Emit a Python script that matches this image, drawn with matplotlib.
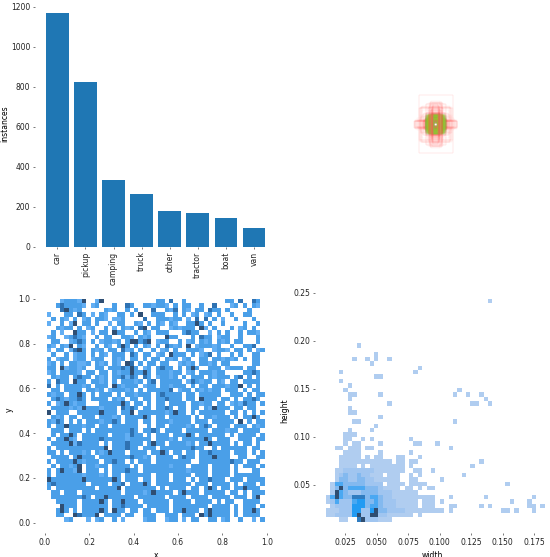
import numpy as np
import matplotlib
matplotlib.use("Agg")
import matplotlib.pyplot as plt
from matplotlib.colors import ListedColormap, BoundaryNorm
from matplotlib.patches import Rectangle

classes = ["car", "pickup", "camping", "truck", "other", "tractor", "boat", "van"]
instances = [1168, 824, 334, 262, 178, 170, 146, 93]

# ---- x / y histogram, read cell by cell, top row first (0 = empty) ----
xy_rows = [
    "0001222140 0140000000 0000022030 0200000000 0220300320",
    "0023222210 1200020032 0022122102 0220020030 0012020210",
    "0003421200 0002120020 2000300213 0210220322 0200002000",
    "1000220320 1021002202 0400222002 0201201202 0020022000",
    "0202102012 0221011200 0030022212 2010303020 1002000200",
    "1002014022 0200102200 2102021021 0022420200 2000020020",
    "0021220201 2002010212 0340220012 1222041020 0020120200",
    "0201004220 1022042200 2021022200 0232200102 0200202210",
    "1200123210 0202200221 0212000422 0002032201 2200200020",
    "0220012320 2012212024 4234012200 2012021202 1202200020",
    "2102140210 0202102420 2021020321 2040122212 0020022300",
    "1022013420 2120220312 0200201202 0022210012 2102202012",
    "0200201220 2021022203 2022012042 2202012302 0020200220",
    "2012201220 1220021202 2020220212 0120022022 1212020220",
    "1202022112 0212021043 0202202200 1212022120 2200000220",
    "2204122120 0220222324 2012023220 2024200222 0122202200",
    "1202222102 2022021224 2242022212 2012022212 2000022320",
    "0212202322 0212022313 2032012212 0202220212 2202302020",
    "2032204220 2212020222 1202302222 2013212202 1022022220",
    "3020222212 0222042122 2012202212 2202022022 2122402020",
    "0220222202 2120122212 0202222230 1220212122 0222020220",
    "2122022420 2022202022 1222023222 2022022222 0022202022",
    "0232122320 2222021202 2022022322 2022042220 2202022320",
    "2012421220 0022222420 2202022022 2202212202 2012132202",
    "0222212142 2212220323 2022022320 2202202142 2202202200",
    "4022200222 2242220224 0222222124 2202022222 2022020202",
    "0212022022 2022212022 2242022022 2220202212 2202022420",
    "2132020202 2212232022 2022022212 2220222022 2220402022",
    "2022422212 2022022222 2002022022 2212023202 2202220212",
    "0222022202 0222222223 2022320222 2022222022 2122022220",
    "0202242022 2222022213 2202022202 2242022222 2020222202",
    "2022421022 2232222212 2222022212 0222224202 2200222022",
    "0222241322 2202022232 2202422022 2212022422 2202022020",
    "2022222222 2224022232 2022202222 2223220020 2222220220",
    "2202022212 0212422202 2220224202 2022022322 2202220202",
    "0222202422 2022222223 2212022220 2322022242 2200220022",
    "2022224212 2202232202 0222022222 2220022222 2232202220",
    "0202212402 2122022220 2022222212 2202222022 2202022202",
    "2024221402 2202022232 2022222222 2212222022 2202000220",
    "2022222212 2212022022 2222022202 2220222022 2202222220",
    "4222222242 2222242022 2022022202 2202022322 2022202222",
    "2322222220 2222022302 2242022222 2220222022 2202022202",
    "2022222222 2022224022 2222202022 2202202420 2202242220",
    "0220222022 2222222022 2212422220 2422202222 2022020222",
    "0222222232 0224222222 0222222022 2202222022 2202220240",
    "0022222022 2242022422 2022222202 2220222202 0220022220",
    "0004222022 2222022322 2202222202 2222222022 2202022202",
    "0024202022 2242042202 2022022202 2422202422 2202022420",
    "0022004322 2402222022 0022200222 0222042422 2202022220",
    "0000120001 0120020100 0012200122 0102200220 1200200102",
]

# ---- width / height histogram, top row first ----
wh_rows = [
    "0000000000 0000000000 0000000000 0000000100",
    "", "", "", "", "", "", "", "", "",
    "0000000100",
    "",
    "0000000000 0100000000",
    "0000001001 0100100000",
    "0000000000 1",
    "0000000000 0000000000 01",
    "0001000000 0000000000 1",
    "0000000000 011",
    "0001",
    "000001",
    "0000100000 0000000000 0000000000 1",
    "0000011000 0010000000 0000000001 0010010000",
    "0000010000 0000000000 0000000000 0000001",
    "0000000000 0000100000 0000000000 0001100100",
    "000001",
    "0000011",
    "0000000000 001",
    "0000001100 0000000000 0000000001",
    "0000000000 01",
    "0000010000 1",
    "0000111",
    "0000110010 1000000001",
    "0000101100 0010000000 1100010",
    "0011011101 1000000000 0000000010",
    "0000111100 0010000001",
    "0001111101 0110001100 01",
    "0001111111 1111101101 1000000000 0000010000",
    "0001111010 1111111101 0000000000 0001000",
    "0011222222 2111111100 1100100000",
    "0012322322 1110111001 0100000000 01",
    "0013322332 2111111001 1000001",
    "0144333332 2220111101 1110000000 0000000000 01",
    "0137344443 3321111011 0101100000",
    "0174322233 3322211111 1",
    "1474336663 4432211111 1111100010 0000001000 0000000100",
    "1242224553 3432221111 1011101000 0000000000 0010001000",
    "0122225553 4432221111 1011100011 0000010100 0000001101",
    "1112225522 5733222211 1111111010 0000000000 1101000100",
    "1122225722 7722111111 0100000000",
    "0001100672 2211100000",
]

xy_colors = ["#ffffff", "#62aef3", "#4a9fe8", "#2f72b2", "#2f4f74"]
wh_colors = ["#ffffff", "#b0cdf0", "#a0c5f0", "#83b9ef", "#4aa8f2", "#229bf3", "#2f7cc0", "#2f4d70"]
outer_colors = ["#FF3838", "#FF9D97"]
middle_colors = ["#48F90A", "#92CC17", "#3DDB86", "#FF701F", "#CFD231"]
inner_colors = ["#FF701F", "#FF3838", "#FFB21D", "#00C2FF", "#92CC17"]

xy_range = (0.01, 0.99, 0.005, 1.0)
wh_range = (0.0099, 0.1834, 0.0118, 0.2441)


def parse_rows(rows):
    grid = np.zeros((50, 50), dtype=int)
    for i, row in enumerate(rows):
        row = row.replace(" ", "")
        for j, ch in enumerate(row[:50]):
            grid[49 - i, j] = int(ch)
    return grid


def px_axes(fig, left, top, right, bottom):
    w, h = fig.get_size_inches() * fig.dpi
    ax = fig.add_axes([left / w, 1 - bottom / h, (right - left) / w, (bottom - top) / h])
    ax.patch.set_visible(False)
    return ax


def style(ax):
    for s in ax.spines.values():
        s.set_visible(False)
    ax.tick_params(labelsize=5.5, length=1.5, width=0.5, color="#444444", labelcolor="#222222", pad=2)


def draw_hist(ax, grid, colors, rng):
    cmap = ListedColormap(colors)
    norm = BoundaryNorm(np.arange(len(colors) + 1) - 0.5, len(colors))
    xe = np.linspace(rng[0], rng[1], 51)
    ye = np.linspace(rng[2], rng[3], 51)
    ax.pcolormesh(xe, ye, grid, cmap=cmap, norm=norm, linewidth=0)


xy_grid = parse_rows(xy_rows)
wh_grid = parse_rows(wh_rows)

fig = plt.figure(figsize=(5.5, 5.57), dpi=100)

# ---- instances per class ----
ax = px_axes(fig, 35.2, 1.3, 276, 246.7)
ax.bar(range(len(classes)), instances, width=0.8, color="#1f77b4")
ax.set_xlim(-0.79, 7.79)
ax.set_ylim(0, 1228)
ax.set_xticks(range(len(classes)))
ax.set_xticklabels(classes, rotation=90)
ax.set_ylabel("instances", fontsize=5.5, labelpad=1.5)
style(ax)

# ---- boxes, all centred ----
ax = px_axes(fig, 315.7, 4.3, 555.7, 244.3)
w_centers = np.linspace(wh_range[0], wh_range[1], 51)[:-1] + 0.00173
h_centers = np.linspace(wh_range[2], wh_range[3], 51)[:-1] + 0.00232
ys, xs = np.nonzero(wh_grid)
for n, (i, j) in enumerate(zip(ys, xs)):
    bw, bh = w_centers[j], h_centers[i]
    size = max(bw, bh)
    if size > 0.085:
        c, a = outer_colors[n % 2], 0.3
    elif size > 0.045:
        c, a = middle_colors[n % 5], 0.45
    else:
        c, a = inner_colors[n % 5], 0.5
    ax.add_patch(Rectangle((0.5 - bw / 2, 0.5 - bh / 2), bw, bh, fill=False, edgecolor=c, linewidth=0.25, alpha=a))
ax.set_xlim(0, 1)
ax.set_ylim(0, 1)
ax.axis("off")

# ---- x / y ----
ax = px_axes(fig, 35.4, 287.5, 276.6, 532.8)
draw_hist(ax, xy_grid, xy_colors, xy_range)
ax.set_xlim(-0.0423, 1.0441)
ax.set_ylim(-0.045, 1.0513)
ax.set_xticks([0, 0.2, 0.4, 0.6, 0.8, 1.0])
ax.set_yticks([0, 0.2, 0.4, 0.6, 0.8, 1.0])
ax.set_xlabel("x", fontsize=5.5, labelpad=3)
ax.set_ylabel("y", fontsize=5.5, labelpad=3)
style(ax)

# ---- width / height ----
ax = px_axes(fig, 315, 287.5, 550, 533)
draw_hist(ax, wh_grid, wh_colors, wh_range)
ax.set_xlim((315 - 313.4) / 1262, (550 - 313.4) / 1262)
ax.set_ylim(0, (533 - 287.5) / 960)
ax.set_xticks([0.025, 0.05, 0.075, 0.1, 0.125, 0.15, 0.175])
ax.set_xticklabels(["0.025", "0.050", "0.075", "0.100", "0.125", "0.150", "0.175"])
ax.set_yticks([0.05, 0.1, 0.15, 0.2, 0.25])
ax.set_xlabel("width", fontsize=5.5, labelpad=3)
ax.set_ylabel("height", fontsize=5.5, labelpad=3)
style(ax)

fig.savefig("out.png", dpi=100)
